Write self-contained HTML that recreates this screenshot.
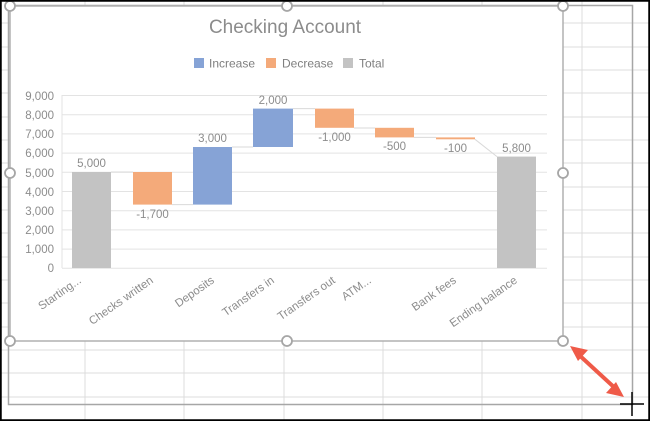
<!DOCTYPE html>
<html><head><style>
body{margin:0;width:650px;height:421px;overflow:hidden;background:#fff;font-family:"Liberation Sans",sans-serif}
</style></head><body>
<svg width="650" height="421" xmlns="http://www.w3.org/2000/svg" font-family="Liberation Sans, sans-serif">
<rect x="0" y="0" width="650" height="421" fill="#fff"/>
<g stroke="#dcdcdc" stroke-width="1">
<line x1="85" y1="0" x2="85" y2="421"/><line x1="184" y1="0" x2="184" y2="421"/><line x1="284" y1="0" x2="284" y2="421"/><line x1="383" y1="0" x2="383" y2="421"/><line x1="482" y1="0" x2="482" y2="421"/><line x1="582" y1="0" x2="582" y2="421"/>
<line x1="0" y1="23" x2="650" y2="23"/><line x1="0" y1="47" x2="650" y2="47"/><line x1="0" y1="70" x2="650" y2="70"/><line x1="0" y1="93" x2="650" y2="93"/><line x1="0" y1="117" x2="650" y2="117"/><line x1="0" y1="140" x2="650" y2="140"/><line x1="0" y1="163" x2="650" y2="163"/><line x1="0" y1="187" x2="650" y2="187"/><line x1="0" y1="210" x2="650" y2="210"/><line x1="0" y1="233" x2="650" y2="233"/><line x1="0" y1="257" x2="650" y2="257"/><line x1="0" y1="280" x2="650" y2="280"/><line x1="0" y1="303" x2="650" y2="303"/><line x1="0" y1="327" x2="650" y2="327"/><line x1="0" y1="350" x2="650" y2="350"/><line x1="0" y1="373" x2="650" y2="373"/><line x1="0" y1="397" x2="650" y2="397"/>
</g>
<rect x="8.5" y="5.5" width="624" height="399" fill="none" stroke="#a6a6a6" stroke-width="1.5"/>
<rect x="10" y="6" width="553" height="335" fill="#fff" stroke="#b0b0b0" stroke-width="1.5"/>
<text x="285" y="33" text-anchor="middle" font-size="19" fill="#8c8c8c">Checking Account</text>
<rect x="194" y="58" width="10" height="10" fill="#86a3d6"/><text x="209" y="67.5" font-size="12" fill="#7f7f7f">Increase</text>
<rect x="266" y="58" width="10" height="10" fill="#f4aa7a"/><text x="282" y="67.5" font-size="12" fill="#7f7f7f">Decrease</text>
<rect x="343" y="58" width="10" height="10" fill="#c3c3c3"/><text x="359" y="67.5" font-size="12" fill="#7f7f7f">Total</text>
<g stroke="#e3e3e3" stroke-width="1">
<line x1="62" y1="95.5" x2="547" y2="95.5"/><line x1="62" y1="114.7" x2="547" y2="114.7"/><line x1="62" y1="133.9" x2="547" y2="133.9"/><line x1="62" y1="153.1" x2="547" y2="153.1"/><line x1="62" y1="172.3" x2="547" y2="172.3"/><line x1="62" y1="191.5" x2="547" y2="191.5"/><line x1="62" y1="210.7" x2="547" y2="210.7"/><line x1="62" y1="229.9" x2="547" y2="229.9"/><line x1="62" y1="249.1" x2="547" y2="249.1"/><line x1="62" y1="268.3" x2="547" y2="268.3"/>
<line x1="62" y1="95" x2="62" y2="268"/>
</g>
<g font-size="11.5" fill="#8c8c8c" text-anchor="end">
<text x="54" y="100">9,000</text><text x="54" y="119">8,000</text><text x="54" y="138">7,000</text><text x="54" y="157">6,000</text><text x="54" y="177">5,000</text><text x="54" y="196">4,000</text><text x="54" y="215">3,000</text><text x="54" y="234">2,000</text><text x="54" y="253">1,000</text><text x="54" y="272">0</text>
</g>
<g stroke="#d9d9d9" stroke-width="1">
<line x1="111" y1="172" x2="133" y2="172"/><line x1="172" y1="204.6" x2="193" y2="204.6"/><line x1="232" y1="147" x2="253" y2="147"/><line x1="293" y1="108.6" x2="315" y2="108.6"/><line x1="354" y1="128" x2="375" y2="128"/><line x1="414" y1="137.4" x2="436" y2="137.4"/><line x1="475" y1="139.3" x2="497" y2="156.6"/>
</g>
<rect x="72" y="172" width="39" height="96" fill="#c3c3c3"/>
<rect x="133" y="172" width="39" height="32.6" fill="#f4aa7a"/>
<rect x="193" y="147" width="39" height="57.6" fill="#86a3d6"/>
<rect x="253" y="108.6" width="40" height="38.4" fill="#86a3d6"/>
<rect x="315" y="108.6" width="39" height="19.2" fill="#f4aa7a"/>
<rect x="375" y="127.8" width="39" height="9.6" fill="#f4aa7a"/>
<rect x="436" y="137.4" width="39" height="1.9" fill="#f4aa7a"/>
<rect x="497" y="156.6" width="39" height="111.4" fill="#c3c3c3"/>
<g font-size="11.5" fill="#8c8c8c" text-anchor="middle">
<text x="91.5" y="167">5,000</text><text x="152.5" y="218">-1,700</text><text x="212.5" y="142">3,000</text><text x="273" y="104">2,000</text><text x="334.5" y="141">-1,000</text><text x="394.5" y="150">-500</text><text x="455.5" y="152">-100</text><text x="516.5" y="152">5,800</text>
</g>
<g font-size="11.5" fill="#8c8c8c" text-anchor="end">
<text transform="translate(82,282) rotate(-35)">Starting...</text>
<text transform="translate(154,282) rotate(-35)">Checks written</text>
<text transform="translate(215,282) rotate(-35)">Deposits</text>
<text transform="translate(275,282) rotate(-35)">Transfers in</text>
<text transform="translate(336,282) rotate(-35)">Transfers out</text>
<text transform="translate(372,282) rotate(-35)">ATM...</text>
<text transform="translate(457,282) rotate(-35)">Bank fees</text>
<text transform="translate(518,282) rotate(-35)">Ending balance</text>
</g>
<g fill="#fff" stroke="#a6a6a6" stroke-width="1.8">
<circle cx="10" cy="6" r="5"/><circle cx="287" cy="6" r="5"/><circle cx="563" cy="6" r="5"/>
<circle cx="10" cy="173" r="5"/><circle cx="563" cy="173" r="5"/>
<circle cx="10" cy="341" r="5"/><circle cx="287" cy="341" r="5"/><circle cx="563" cy="341" r="5"/>
</g>
<g stroke="#ef5a48" stroke-width="4" fill="#ef5a48">
<line x1="578" y1="354" x2="616" y2="389"/>
<polygon points="570,346 588,350 578,361" stroke="none"/>
<polygon points="624,397 606,393 616,382" stroke="none"/>
</g>
<g stroke="#000" stroke-width="1.5"><line x1="620" y1="404" x2="644" y2="404"/><line x1="632" y1="392" x2="632" y2="416"/></g>
<rect x="0.5" y="0.5" width="649" height="420" fill="none" stroke="#000" stroke-width="2.5"/>
</svg>
</body></html>
